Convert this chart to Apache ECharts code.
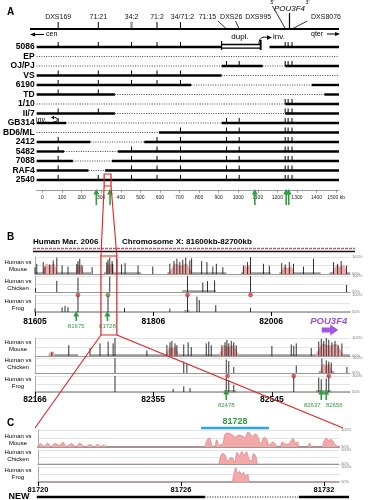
<!DOCTYPE html>
<html><head><meta charset="utf-8">
<script src="https://cdn.jsdelivr.net/npm/echarts@6/dist/echarts.min.js"></script>
<style>html,body{margin:0;padding:0;background:#fff;}#chart{width:368px;height:500px;}</style>
</head><body><div id="chart"></div>
<script>
const FONT = '"Liberation Sans", Arial, sans-serif';
const GREEN = '#2f9e3f';

// ---------------- Panel A data ----------------
const rowNames = ['5086','EP','OJ/PJ','VS','6190','TD','1/10','II/7','GB314','BD6/ML','2412','5482','7088','RAF4','2540'];
// [row, startKb, endKb]
const solidSegs = [
  [0,-30,915],[0,1160,1515],
  [2,915,1125],[2,1240,1515],
  [3,-30,915],
  [4,-30,760],[4,1375,1515],
  [5,-30,370],[5,1440,1515],
  [6,1240,1515],
  [7,-30,370],[7,1240,1515],
  [8,-30,120],[8,915,1515],
  [9,595,1515],
  [10,-30,245],[10,520,1515],
  [11,-30,110],[11,385,1515],
  [12,-30,155],[12,355,1515],
  [13,-30,235],[13,320,1515],
  [14,-30,1515]
];
const dottedSegs = [
  [1,-30,1515],
  [2,-30,915],[2,1125,1240],
  [3,915,1515],
  [4,760,1375],
  [5,370,1440],
  [6,-30,1240],
  [7,370,1240],
  [8,120,915],
  [9,-30,595],
  [10,245,520],
  [11,110,385],
  [12,155,355],
  [13,235,320]
];
const duplSegs = [[0,915,1115]];
const markerKb = [80,285,455,585,705,940,1005,1240,1255,1275];
const topMarkerNames = ['DXS169','71:21','34:2','71:2','34/71:2','71:15','DXS26','DXS995','DXS8076'];
const topMarkerKb = [80,285,455,585,705,940,1005,1240,1275];
const pou3f4Kb = [1262];
const aAxisTicks = [0,100,200,300,400,500,600,700,800,900,1000,1100,1200,1300,1400,1500];
const aArrowKb = [275,345,1085,1245,1258];
const aZoomKb = [315,350];

// layout only (label offsets in px)
const topLabelDx = [0,0,0,0,2,-19,-8,-27,34];
const topLeader = [0,0,0,0,0,1,1,0,1];

// ---------------- Panel B data ----------------
const bTopRange = [81605, 82140];
const bTopTicks = [81605, 81806, 82006];
const bBotRange = [82166, 82670];
const bBotTicks = [82166, 82355, 82545];
const bZoomKb = [81717, 81744];

const mouseTopSpikes = [[81605,70],[81608,80],[81619,85],[81622,72],[81630,78],[81636,90],[81642,98],[81651,75],[81661,72],[81676,80],[81678,88],[81681,95],[81685,75],[81702,70],[81727,85],[81729,92],[81732,98],[81736,88],[81737,80],[81744,95],[81752,78],[81758,82],[81780,75],[81805,72],[81834,80],[81841,88],[81846,95],[81851,85],[81856,92],[81861,98],[81868,90],[81871,96],[81888,88],[81897,85],[81907,72],[81913,80],[81924,70],[81959,75],[81966,85],[81971,100],[81993,80],[82003,75],[82024,82],[82030,78],[82037,85],[82044,80],[82061,72],[82078,95],[82112,85],[82119,80],[82125,88],[82134,75]];
const mouseTopPink = [[81617,81644,80],[81674,81687,78],[81725,81739,80],[81832,81873,80],[81957,81973,76],[82022,82046,72],[82110,82136,76]];
const mouseTopAligned = [[81605,81700],[81722,81785],[81830,81930],[81955,82005],[82020,82090],[82105,82140]];
const chickenTopSpikes = [[81606,62],[81642,85],[81678,95],[81732,98],[81864,100],[81890,80],[81898,84],[81910,86],[81971,100],[82134,72]];
const chickenTopAligned = [[81855,81912]];
const frogTopSpikes = [[81605,60],[81651,64],[81656,68],[81661,64],[81678,100],[81729,100],[81757,62],[81834,60],[81864,100],[81880,95],[81884,85],[81912,70],[81971,62]];
const frogTopAligned = [[81858,81868]];
const frogTopRed = [[81678,100],[81864,100],[81971,100]];
const frogTopGreen = [[81729,100]];
const bTopArrowKb = [81675, 81728];
const bTopArrowLabels = ['81675','81728'];
const pou3f4B = [[82092, 82120]];

const mouseBotSpikes = [[82193,62],[82220,80],[82254,72],[82270,85],[82283,90],[82291,85],[82294,100],[82345,65],[82377,80],[82382,88],[82385,92],[82390,85],[82393,80],[82404,82],[82411,88],[82416,75],[82440,85],[82444,90],[82448,80],[82465,80],[82470,88],[82473,95],[82476,85],[82480,92],[82484,88],[82488,80],[82545,78],[82576,82],[82580,78],[82584,85],[82608,72],[82620,90],[82624,98],[82628,92],[82632,100],[82636,95],[82641,88],[82646,92],[82651,80],[82657,85]];
const mouseBotPink = [[82188,82198,62],[82376,82396,76],[82460,82492,80],[82614,82660,84]];
const mouseBotAligned = [[82188,82235],[82255,82670]];
const chickenBotSpikes = [[82294,100],[82404,88],[82409,80],[82472,95],[82476,90],[82484,70],[82584,75],[82625,98],[82632,92],[82636,88],[82640,85],[82665,70]];
const chickenBotPink = [[82622,82642,80]];
const chickenBotAligned = [[82620,82645]];
const frogBotSpikes = [[82294,100],[82387,60],[82404,68],[82414,62],[82472,95],[82476,88],[82484,72],[82580,100],[82620,95],[82624,90],[82632,92],[82636,100]];
const frogBotAligned = [[82468,82488],[82615,82640]];
const frogBotRed = [[82474,100],[82580,100],[82636,100]];
const bBotArrowKb = [82472, 82624, 82632];
const bBotArrowLabels = ['82478','82637','82656'];
const bBotLabelDx = [0,-9,8];

// ---------------- Panel C data ----------------
const cRange = [81720, 81732.63];
const cTicks = [81720, 81726, 81732];
const mouseC = [[81720.0,50],[81720.1,60],[81720.25,52],[81720.4,62],[81720.55,50],[81720.7,60],[81720.9,55],[81721.05,64],[81721.2,52],[81721.4,60],[81721.6,50],[81721.75,62],[81721.95,50],[81722.2,57],[81722.35,50],[81722.5,58],[81722.65,50],[81722.75,56],[81722.9,50],[81726.95,50],[81727.1,72],[81727.2,76],[81727.3,55],[81727.4,50],[81727.5,71],[81727.6,55],[81727.75,60],[81727.85,88],[81728.0,91],[81728.15,86],[81728.3,78],[81728.4,85],[81728.55,83],[81728.7,78],[81728.8,94],[81728.9,90],[81729.0,80],[81729.1,88],[81729.2,84],[81729.35,60],[81729.5,79],[81729.6,72],[81729.7,55],[81729.85,65],[81729.95,60],[81730.05,50],[81730.15,50],[81730.25,65],[81730.4,58],[81730.55,60],[81730.7,76],[81730.8,62],[81730.9,65],[81730.95,50],[81731.3,50],[81731.4,62],[81731.5,50],[81731.9,50],[81732.0,68],[81732.1,76],[81732.2,70],[81732.3,72],[81732.4,65],[81732.5,55],[81732.63,50]];
const chickenC = [[81720,50],[81727.55,50],[81727.65,75],[81727.75,88],[81727.85,82],[81727.95,60],[81728.05,70],[81728.15,72],[81728.25,55],[81728.35,92],[81728.45,80],[81728.55,95],[81728.65,82],[81728.75,94],[81728.85,70],[81728.95,60],[81729.05,88],[81729.15,75],[81729.25,50],[81732.63,50]];
const frogC = [[81720,50],[81728.1,50],[81728.2,72],[81728.3,97],[81728.38,80],[81728.45,85],[81728.55,75],[81728.62,82],[81728.7,70],[81728.8,76],[81728.9,50],[81732.63,50]];
const element81728 = [[81726.84, 81729.69]];
const element81728Label = '81728';
const newSolid = [[81719.95, 81727.0],[81730.95, 81733.05]];
const newDotted = [[81727.0, 81730.95]];

// ---------------- render helpers ----------------
function f(size, w, st) { return (st ? st + ' ' : '') + (w ? w + ' ' : '') + size + 'px ' + FONT; }
function segRender(width, dash, color) {
  return function (params, api) {
    const a = api.coord([api.value(1), api.value(0)]);
    const b = api.coord([api.value(2), api.value(0)]);
    const style = {stroke: color, lineWidth: width};
    if (dash) style.lineDash = dash;
    return {type:'line', shape:{x1:a[0], y1:a[1], x2:b[0], y2:b[1]}, style};
  };
}
function duplRender(params, api) {
  const a = api.coord([api.value(1), api.value(0)]);
  const b = api.coord([api.value(2), api.value(0)]);
  const y = a[1];
  return {type:'group', children:[
    {type:'line', shape:{x1:a[0], y1:y-2.5, x2:b[0], y2:y-2.5}, style:{stroke:'#000', lineWidth:1.3}},
    {type:'line', shape:{x1:a[0], y1:y+1.2, x2:b[0], y2:y+1.2}, style:{stroke:'#000', lineWidth:1.3}},
    {type:'line', shape:{x1:a[0], y1:y-6, x2:a[0], y2:y+3}, style:{stroke:'#000', lineWidth:1.2}},
    {type:'line', shape:{x1:b[0], y1:y-7, x2:b[0], y2:y+3}, style:{stroke:'#000', lineWidth:1.8}}
  ]};
}
function tickRender(params, api) {
  const p = api.coord([api.value(1), api.value(0)]);
  return {type:'line', shape:{x1:p[0], y1:p[1]-5, x2:p[0], y2:p[1]}, style:{stroke:'#000', lineWidth:1}};
}
function topMarkerRender(params, api) {
  const i = params.dataIndex;
  const x = api.coord([api.value(0), 0])[0];
  const dx = topLabelDx[i];
  const gray = topMarkerNames[i] === '34:2';
  const ch = [{type:'text', style:{text:topMarkerNames[i], x:x+dx, y:17, textAlign:'center', textVerticalAlign:'middle', font:f(7), fill:'#111'}}];
  if (dx === 0 || Math.abs(dx) < 3) ch.push({type:'line', shape:{x1:x, y1:22, x2:x, y2:29}, style:{stroke: gray ? '#9a9a9a' : '#000', lineWidth: gray ? 2.4 : 1}});
  else if (topLeader[i]) ch.push({type:'line', shape:{x1:x+dx*0.45, y1:21, x2:x, y2:29}, style:{stroke:'#000', lineWidth:0.8}});
  return {type:'group', children:ch};
}
function pouRender(params, api) {
  const x = api.coord([api.value(0), 0])[0];
  return {type:'group', children:[
    {type:'line', shape:{x1:x, y1:13, x2:x, y2:29}, style:{stroke:'#000', lineWidth:1.2}},
    {type:'line', shape:{x1:x-17, y1:6, x2:x-4.5, y2:28}, style:{stroke:'#000', lineWidth:0.8}},
    {type:'text', style:{text:'POU3F4', x:x, y:9, textAlign:'center', textVerticalAlign:'middle', font:f(8,'','italic'), fill:'#000'}},
    {type:'text', style:{text:"5'", x:x-17, y:3, textAlign:'center', textVerticalAlign:'middle', font:f(5), fill:'#000'}},
    {type:'text', style:{text:"3'", x:x+18, y:3, textAlign:'center', textVerticalAlign:'middle', font:f(5), fill:'#000'}}
  ]};
}
function arrowRender(tipY, len, yVal, labels, labelDx, width) {
  return function (params, api) {
    const x = api.coord([api.value(0), yVal])[0];
    const ch = [
      {type:'line', shape:{x1:x, y1:tipY+4, x2:x, y2:tipY+len}, style:{stroke:GREEN, lineWidth:width}},
      {type:'polygon', shape:{points:[[x-3,tipY+5.5],[x+3,tipY+5.5],[x,tipY]]}, style:{fill:GREEN}}
    ];
    if (labels) {
      const dx = labelDx ? labelDx[params.dataIndex] : 0;
      ch.push({type:'text', style:{text:labels[params.dataIndex], x:x+dx, y:tipY+len+5, textAlign:'center', textVerticalAlign:'middle', font:f(6), fill:GREEN}});
    }
    return {type:'group', children:ch};
  };
}
function spikeRender(params, api) {
  const a = api.coord([api.value(0), 50]);
  const b = api.coord([api.value(0), api.value(1)]);
  return {type:'line', shape:{x1:a[0], y1:a[1], x2:b[0], y2:b[1]}, style:{stroke:'#1a1a1a', lineWidth:0.9}};
}
function humpRender(params, api) {
  const s = api.value(0), e = api.value(1), h = api.value(2);
  const pts = [api.coord([s,50]), api.coord([s+(e-s)*0.25,h]), api.coord([(s+e)/2,h-6]), api.coord([s+(e-s)*0.75,h]), api.coord([e,50])];
  return {type:'polygon', shape:{points:pts}, style:{fill:'#f2a9a9', stroke:'#d88', lineWidth:0.4}};
}
function alignedRender(params, api) {
  const a = api.coord([api.value(0), 50]);
  const b = api.coord([api.value(1), 50]);
  return {type:'line', shape:{x1:a[0], y1:a[1]-0.5, x2:b[0], y2:b[1]-0.5}, style:{stroke:'#9a9a9a', lineWidth:2.6}};
}
function pouBRender(params, api) {
  const x1 = api.coord([api.value(0), 50])[0];
  const x2 = api.coord([api.value(1), 50])[0];
  const y = 330;
  return {type:'group', children:[
    {type:'polygon', shape:{points:[[x1,y-2.5],[x2-8,y-2.5],[x2-8,y-5.5],[x2,y],[x2-8,y+5.5],[x2-8,y+2.5],[x1,y+2.5]]}, style:{fill:'#a355e6'}},
    {type:'text', style:{text:'POU3F4', x:x1+7, y:321, textAlign:'center', textVerticalAlign:'middle', font:f(9.5,'bold','italic'), fill:'#9b4fe0'}}
  ]};
}
function elemRender(params, api) {
  const a = api.coord([api.value(0), 100]);
  const b = api.coord([api.value(1), 100]);
  const y = params.coordSys.y - 2;
  return {type:'group', children:[
    {type:'line', shape:{x1:a[0], y1:y, x2:b[0], y2:y}, style:{stroke:'#2aa7df', lineWidth:2.5}},
    {type:'text', style:{text:element81728Label, x:(a[0]+b[0])/2, y:y-6.5, textAlign:'center', textVerticalAlign:'middle', font:f(9,'bold'), fill:GREEN}}
  ]};
}
function newRender(width, dash) {
  return function (params, api) {
    const a = api.coord([api.value(0), 50]);
    const b = api.coord([api.value(1), 50]);
    const style = {stroke:'#000', lineWidth:width};
    if (dash) style.lineDash = dash;
    return {type:'line', shape:{x1:a[0], y1:497, x2:b[0], y2:497}, style};
  };
}

// ---------------- grids & axes ----------------
const grids = [
  {left:30, top:42.25, width:309, height:142.5},
  {left:35, top:257, width:315, height:17},
  {left:35, top:276, width:315, height:16},
  {left:35, top:295, width:315, height:17},
  {left:35, top:338, width:315, height:18},
  {left:35, top:358, width:315, height:15},
  {left:35, top:376, width:315, height:16},
  {left:38, top:430, width:301, height:17},
  {left:38, top:450, width:301, height:14},
  {left:38, top:467, width:301, height:15}
];
const xAxes = [{
  gridIndex:0, type:'value', min:-30, max:1515, position:'bottom', offset:5,
  axisLine:{show:true, onZero:false, lineStyle:{color:'#999', width:1}},
  axisTick:{show:true, customValues:aAxisTicks, length:3, lineStyle:{color:'#999'}},
  axisLabel:{customValues:aAxisTicks, fontSize:5, color:'#222', margin:5, fontFamily:FONT, formatter:v => v === 1500 ? '1500 kb' : String(v)},
  splitLine:{show:false}
}];
function trackX(g, range, ticks, base, lblSize, lblMargin) {
  const ax = {gridIndex:g, type:'value', min:range[0], max:range[1],
    axisLine:{show:true, onZero:false, lineStyle:{color:'#999', width:base}},
    axisTick:{show:false}, axisLabel:{show:false}, splitLine:{show:false}};
  if (ticks) {
    ax.axisTick = {show:true, customValues:ticks, length:4, lineStyle:{color:'#000', width:1}};
    ax.axisLabel = {show:true, customValues:ticks, fontSize:lblSize, fontWeight:'bold', color:'#000', margin:lblMargin, fontFamily:FONT, formatter:v => String(v)};
  }
  return ax;
}
xAxes.push(trackX(1,bTopRange,null,1.2), trackX(2,bTopRange,null,1.2), trackX(3,bTopRange,bTopTicks,1.5,8.5,5));
xAxes.push(trackX(4,bBotRange,null,1.2), trackX(5,bBotRange,null,1.2), trackX(6,bBotRange,bBotTicks,1.5,8.5,3));
xAxes.push(trackX(7,cRange,null,2.2), trackX(8,cRange,null,1.2), trackX(9,cRange,cTicks,1.5,7.5,4));

const yAxes = [{gridIndex:0, type:'category', data:rowNames, inverse:true,
  axisLine:{show:false}, axisTick:{show:false}, splitLine:{show:false},
  axisLabel:{interval:0, fontSize:8.5, fontWeight:'bold', color:'#000', margin:2, fontFamily:FONT}}];
for (let g = 1; g <= 9; g++) {
  yAxes.push({gridIndex:g, type:'value', min:50, max:100, interval:25,
    axisLine:{show:true, lineStyle:{color:'#999', width:0.8}}, axisTick:{show:false}, axisLabel:{show:false},
    splitLine:{show:true, lineStyle:{color:'#d2d2d2', width:0.6}}});
  yAxes.push({gridIndex:g, type:'value', position:'right', min:50, max:100, interval:50,
    axisLine:{show:false}, axisTick:{show:false}, splitLine:{show:false},
    axisLabel:{fontSize:4, color:'#777', margin:2, formatter:'{value}%', fontFamily:FONT}});
}

// ---------------- series ----------------
const series = [
  {type:'custom', xAxisIndex:0, yAxisIndex:0, encode:{x:[1,2], y:0}, data:dottedSegs, renderItem:segRender(0.9,[1,1.4],'#333')},
  {type:'custom', xAxisIndex:0, yAxisIndex:0, encode:{x:[1,2], y:0}, data:solidSegs, renderItem:segRender(2.4,null,'#000')},
  {type:'custom', xAxisIndex:0, yAxisIndex:0, encode:{x:[1,2], y:0}, data:duplSegs, renderItem:duplRender},
];
const rowTicks = [];
solidSegs.forEach(s => markerKb.forEach(m => { if (m >= s[1] && m <= s[2]) rowTicks.push([s[0], m]); }));
series.push(
  {type:'custom', xAxisIndex:0, yAxisIndex:0, encode:{x:1, y:0}, data:rowTicks, renderItem:tickRender},
  {type:'custom', xAxisIndex:0, yAxisIndex:0, encode:{x:0, y:1}, data:topMarkerKb.map(k => [k,0]), renderItem:topMarkerRender},
  {type:'custom', xAxisIndex:0, yAxisIndex:0, encode:{x:0, y:1}, data:pou3f4Kb.map(k => [k,0]), renderItem:pouRender},
  {type:'custom', xAxisIndex:0, yAxisIndex:0, encode:{x:0, y:1}, data:aArrowKb.map(k => [k,0]), renderItem:arrowRender(189,16,0,null,null,1.6)}
);
function track(g, aligned, pink, spikes) {
  const yi = 2*g - 1;
  if (aligned) series.push({type:'custom', xAxisIndex:g, yAxisIndex:yi, data:aligned, renderItem:alignedRender});
  if (pink) series.push({type:'custom', xAxisIndex:g, yAxisIndex:yi, data:pink, renderItem:humpRender});
  if (spikes) series.push({type:'custom', xAxisIndex:g, yAxisIndex:yi, data:spikes, renderItem:spikeRender});
}
function dots(g, data, color) {
  series.push({type:'scatter', xAxisIndex:g, yAxisIndex:2*g-1, data, symbolSize:4, clip:false,
    itemStyle:{color, borderColor:'#600', borderWidth:0.4}, z:5});
}
track(1, mouseTopAligned, mouseTopPink, mouseTopSpikes);
track(2, chickenTopAligned, null, chickenTopSpikes);
track(3, frogTopAligned, null, frogTopSpikes);
dots(3, frogTopRed, '#e53b3b');
dots(3, frogTopGreen, '#3cb04a');
series.push({type:'custom', xAxisIndex:3, yAxisIndex:5, data:bTopArrowKb.map(k => [k,50]), renderItem:arrowRender(311,10,50,bTopArrowLabels,null,1.6)});
series.push({type:'custom', xAxisIndex:3, yAxisIndex:5, data:pou3f4B, renderItem:pouBRender});
track(4, mouseBotAligned, mouseBotPink, mouseBotSpikes);
track(5, chickenBotAligned, chickenBotPink, chickenBotSpikes);
track(6, frogBotAligned, null, frogBotSpikes);
dots(6, frogBotRed, '#e53b3b');
series.push({type:'custom', xAxisIndex:6, yAxisIndex:11, data:bBotArrowKb.map(k => [k,50]), renderItem:arrowRender(389,11,50,bBotArrowLabels,bBotLabelDx,1.6)});
function areaLine(g, data) {
  series.push({type:'line', xAxisIndex:g, yAxisIndex:2*g-1, data, symbol:'none', smooth:0.3,
    lineStyle:{color:'#cc7777', width:0.6}, areaStyle:{color:'#f4a8a8', opacity:1, origin:'start'}});
}
areaLine(7, mouseC); areaLine(8, chickenC); areaLine(9, frogC);
series.push({type:'custom', xAxisIndex:7, yAxisIndex:13, data:element81728, renderItem:elemRender});
series.push({type:'custom', xAxisIndex:9, yAxisIndex:17, data:newSolid, renderItem:newRender(2.6,null)});
series.push({type:'custom', xAxisIndex:9, yAxisIndex:17, data:newDotted, renderItem:newRender(1,[1,1.5])});

// ---------------- static graphics ----------------
function T(text, x, y, font, align, fill) {
  return {type:'text', z:50, style:{text, x, y, font, textAlign:align || 'left', textVerticalAlign:'middle', fill:fill || '#000', lineHeight:7}};
}
function L(x1, y1, x2, y2, w, color, dash) {
  const style = {stroke:color || '#000', lineWidth:w};
  if (dash) style.lineDash = dash;
  return {type:'line', z:50, shape:{x1, y1, x2, y2}, style};
}
function P(points, fill) { return {type:'polygon', z:50, shape:{points}, style:{fill:fill || '#000'}}; }
const graphics = [
  T('A', 7, 12, f(10,'bold')), T('B', 7, 237, f(10,'bold')), T('C', 7, 423, f(10,'bold')),
  L(30, 29, 339, 29, 2),
  L(34, 34.5, 44, 34.5, 1), P([[30,34.5],[35,32.5],[35,36.5]]), T('cen', 46, 34.5, f(7)),
  T('qter', 311, 34, f(7)), L(327, 34, 336, 34, 1), P([[340,34],[335,32],[335,36]]),
  T('dupl.', 240, 36.5, f(8), 'center'),
  {type:'bezierCurve', z:50, shape:{x1:259, y1:44, cpx1:259, cpy1:37, cpx2:263, cpy2:36.5, x2:268, y2:37.5}, style:{stroke:'#000', lineWidth:1, fill:'none'}},
  P([[272,37.5],[267,35.3],[267,39.7]]),
  T('inv.', 273, 36.5, f(8)),
  T('inv.', 36, 120, f(7)),
  {type:'bezierCurve', z:50, shape:{x1:52, y1:117.5, cpx1:59, cpy1:116.5, cpx2:59, cpy2:122.5, x2:53, y2:122}, style:{stroke:'#000', lineWidth:1, fill:'none'}},
  P([[51,117.5],[54,115.8],[54,119.2]]),
  T('Human Mar. 2006', 33, 242, f(8,'bold')),
  T('Chromosome X: 81600kb-82700kb', 122, 242, f(8,'bold')),
  L(33, 248.5, 355, 248.5, 1.5, '#b5587a', [3,1]),
  L(33, 251.5, 355, 251.5, 1.5, '#111'),
  T('Human vs\nMouse', 18, 266, f(6), 'center'),
  T('Human vs\nChicken', 18, 285, f(6), 'center'),
  T('Human vs\nFrog', 18, 304.5, f(6), 'center'),
  T('Human vs\nMouse', 18, 346, f(6), 'center'),
  T('Human vs\nChicken', 18, 364, f(6), 'center'),
  T('Human vs\nFrog', 18, 382.5, f(6), 'center'),
  T('Human vs\nMouse', 18, 439.5, f(6), 'center'),
  T('Human vs\nChicken', 18, 455.7, f(6), 'center'),
  T('Human vs\nFrog', 18, 473.7, f(6), 'center'),
  T('NEW', 19, 497, f(9,'bold'), 'center')
];

const option = {
  animation:false,
  textStyle:{fontFamily:FONT},
  grid:grids, xAxis:xAxes, yAxis:yAxes, series,
  graphic:graphics
};
const chart = echarts.init(document.getElementById('chart'), null, {renderer:'canvas'});
chart.setOption(option);

// ---------------- zoom connectors (from axes) ----------------
const a1 = chart.convertToPixel({gridIndex:0}, [aZoomKb[0], 14]);
const a2 = chart.convertToPixel({gridIndex:0}, [aZoomKb[1], 14]);
const b1 = chart.convertToPixel({gridIndex:1}, [bZoomKb[0], 100]);
const b2 = chart.convertToPixel({gridIndex:1}, [bZoomKb[1], 100]);
const c1 = chart.convertToPixel({gridIndex:7}, [cRange[0], 100]);
const c2 = chart.convertToPixel({gridIndex:7}, [cRange[1], 100]);
const RED = '#e02020';
const aTop = a1[1] - 6, aBot = a1[1] + 6;
const bTop = b1[1] - 1, bBot = 335;
const red = [
  {type:'rect', z:60, shape:{x:a1[0], y:aTop, width:a2[0]-a1[0], height:aBot-aTop}, style:{fill:'none', stroke:RED, lineWidth:1.2}},
  {type:'line', z:60, shape:{x1:a1[0], y1:aBot, x2:b1[0], y2:bTop}, style:{stroke:RED, lineWidth:1.1}},
  {type:'line', z:60, shape:{x1:a2[0], y1:aBot, x2:b2[0], y2:bTop}, style:{stroke:RED, lineWidth:1.1}},
  {type:'rect', z:60, shape:{x:b1[0], y:bTop, width:b2[0]-b1[0], height:bBot-bTop}, style:{fill:'none', stroke:RED, lineWidth:1.2}},
  {type:'line', z:60, shape:{x1:b1[0], y1:bBot, x2:c1[0]-3, y2:c1[1]-2}, style:{stroke:RED, lineWidth:1.1}},
  {type:'line', z:60, shape:{x1:b2[0], y1:bBot, x2:c2[0]+4, y2:c2[1]-2}, style:{stroke:RED, lineWidth:1.1}}
];
chart.setOption({graphic: graphics.concat(red)});
</script></body></html>
